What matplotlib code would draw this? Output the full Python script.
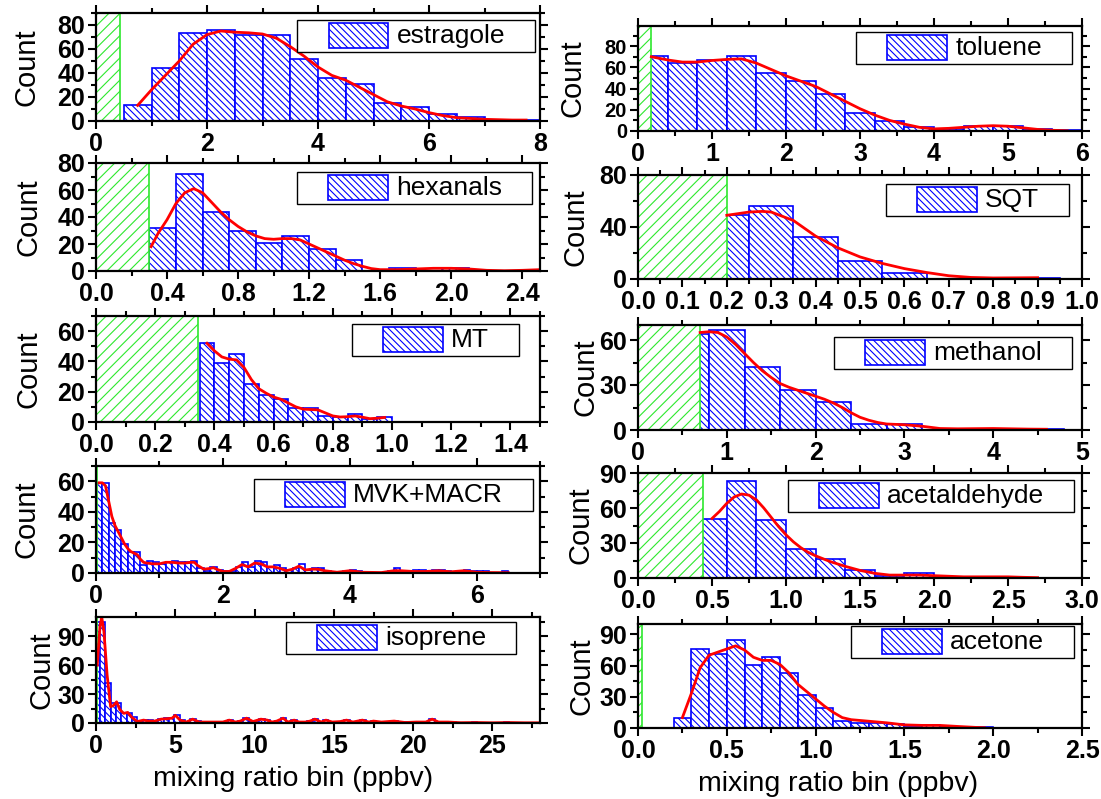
import numpy as np
import matplotlib.pyplot as plt
from matplotlib.patches import Rectangle
from matplotlib.offsetbox import AnchoredOffsetbox, DrawingArea, HPacker, TextArea
from matplotlib.ticker import MultipleLocator, FormatStrFormatter
from matplotlib.transforms import offset_copy

plt.rcParams['font.family'] = ['Liberation Sans', 'DejaVu Sans']
plt.rcParams['font.weight'] = 'bold'
plt.rcParams['hatch.linewidth'] = 0.8

# ---- histogram counts (first bin edge, bin width, counts), LOD and fitted curve ----
estragole_bin0, estragole_binw = 0.5, 0.5
estragole_counts = [13, 44, 73, 76, 72, 72, 52, 36, 31, 15, 12, 6, 3, 1, 1]
estragole_lod = 0.43
estragole_fit_x = [0.75, 1.0, 1.25, 1.5, 1.75, 2.0, 2.25, 2.5, 2.75, 3.0, 3.25, 3.5, 3.75, 4.0,
                   4.25, 4.5, 4.75, 5.0, 5.25, 5.5, 5.75, 6.0, 6.25, 6.5, 7.0, 7.5, 7.75]
estragole_fit_y = [13, 26, 38, 50, 64, 72, 75, 74, 73.5, 72.5, 69, 62, 54, 45,
                   38, 34, 28, 22, 16, 12.5, 10, 7, 4.5, 2.8, 1.4, 0.8, 0.8]

toluene_bin0, toluene_binw = 0.0, 0.4
toluene_counts = [71, 64, 67, 71, 55, 47, 35, 17, 9, 4, 2, 5, 5, 2, 1]
toluene_lod = 0.18
toluene_fit_x = [0.18, 0.4, 0.6, 0.8, 1.0, 1.2, 1.4, 1.6, 1.8, 2.0, 2.2, 2.4, 2.6, 2.8, 3.0,
                 3.2, 3.4, 3.6, 3.8, 4.0, 4.2, 4.4, 4.6, 4.8, 5.0, 5.2, 5.4, 5.6, 5.8]
toluene_fit_y = [70, 67, 65, 65, 66.5, 67.5, 68, 64, 58, 52, 47, 42, 35, 28, 21,
                 15, 10, 6.5, 3.5, 2, 2.5, 3.5, 4.5, 5, 4.5, 3, 1.5, 0.7, 0.2]

hexanals_bin0, hexanals_binw = 0.3, 0.15
hexanals_counts = [32, 72, 44, 30, 21, 26, 16, 8, 0, 2, 0, 2, 0, 0, 1]
hexanals_lod = 0.3
hexanals_fit_x = [0.31, 0.35, 0.4, 0.45, 0.5, 0.55, 0.6, 0.65, 0.7, 0.75, 0.8, 0.85, 0.9, 0.95,
                  1.0, 1.05, 1.1, 1.15, 1.2, 1.25, 1.3, 1.35, 1.4, 1.45, 1.5, 1.55, 1.6, 1.7,
                  1.8, 1.9, 2.0, 2.1, 2.2, 2.3, 2.4, 2.5]
hexanals_fit_y = [18, 28, 38, 50, 58, 61, 58, 51, 44, 38, 33, 29, 26, 24,
                  23.5, 24, 24, 23, 20, 17, 14, 11, 8, 5.5, 3.5, 1.8, 1, 1,
                  1.5, 2, 2, 1.5, 0.5, 0.2, 0.5, 1]

sqt_bin0, sqt_binw = 0.15, 0.1
sqt_counts = [49, 56, 32, 14, 5, 0, 0, 1]
sqt_lod = 0.2
sqt_fit_x = [0.2, 0.25, 0.28, 0.3, 0.35, 0.4, 0.45, 0.5, 0.55, 0.6, 0.65, 0.7, 0.75, 0.8, 0.9]
sqt_fit_y = [49, 51.5, 52, 51.5, 45, 33, 24, 17, 12, 8, 5, 2.5, 1.2, 0.8, 1]

mt_bin0, mt_binw = 0.35, 0.05
mt_counts = [52, 39, 45, 25, 18, 15, 9, 9, 4, 3, 5, 2, 3]
mt_lod = 0.345
mt_fit_x = [0.375, 0.4, 0.425, 0.45, 0.475, 0.5, 0.525, 0.55, 0.575, 0.6, 0.625, 0.65, 0.675,
            0.7, 0.75, 0.775, 0.8, 0.825, 0.85, 0.875, 0.9, 0.925, 0.95, 0.975]
mt_fit_y = [52, 47, 43, 41.5, 41, 36, 28, 22, 19, 16.5, 15, 12.5, 10,
            8.5, 8, 6, 4, 3.3, 3.5, 4, 3.2, 2.2, 2.5, 3]

methanol_bin0, methanol_binw = 0.4, 0.4
methanol_counts = [64, 67, 42, 27, 19, 4, 4, 0, 1, 0, 1]
methanol_lod = 0.7
methanol_fit_x = [0.7, 0.8, 0.9, 1.0, 1.1, 1.2, 1.3, 1.4, 1.5, 1.6, 1.7, 1.8, 1.9, 2.0, 2.1, 2.2,
                  2.3, 2.4, 2.5, 2.6, 2.7, 2.8, 3.0, 3.2, 3.4, 3.6, 4.0, 4.4, 4.6]
methanol_fit_y = [65, 65.5, 65, 62, 57, 51, 45, 39.5, 35, 31, 28.5, 26.5, 24.5, 22.5, 20.5, 18,
                  15, 11.5, 8.5, 6.5, 5, 4, 3.5, 2.5, 1, 0.8, 1, 0.6, 0.5]

mvk_bin0, mvk_binw = 0.0, 0.1
mvk_counts = [59, 59, 33, 28, 19, 14, 14, 5, 8, 7, 6, 7, 8, 7, 7, 8, 3, 1, 4, 2,
              1, 1, 4, 7, 4, 8, 7, 4, 5, 3, 2, 3, 6, 2, 3, 3, 1, 0, 0, 1,
              2, 1, 0, 0, 0, 0, 1, 3, 1, 1, 2, 2, 1, 2, 2, 1, 0, 1, 2, 1,
              1, 1, 0, 0, 1]
mvk_lod = 0.015
mvk_fit_x = [0.05, 0.1, 0.15, 0.2, 0.25, 0.3, 0.35, 0.4, 0.45, 0.5, 0.55, 0.6, 0.65, 0.7, 0.75,
             0.8, 0.9, 1.0, 1.1, 1.2, 1.3, 1.4, 1.5, 1.55, 1.6, 1.7, 1.8, 1.85, 1.9, 2.0,
             2.1, 2.2, 2.3, 2.4, 2.5, 2.6, 2.7, 2.8, 2.9, 3.0, 3.1, 3.2, 3.3, 3.4, 3.5,
             3.6, 3.8, 4.0, 4.2, 4.5, 4.7, 4.8, 5.0, 5.2, 5.4, 5.6, 5.8, 6.0, 6.2, 6.5]
mvk_fit_y = [59, 59, 57, 47, 37, 31, 27, 23, 19, 16, 14, 13, 12, 9, 7,
             6.5, 6, 6, 7, 7, 6.5, 6.5, 7, 7, 5, 2.5, 3, 3.5, 2.5, 1,
             1, 3, 5.5, 4, 6.5, 6, 4, 4, 3, 1.5, 2.5, 4.5, 2, 2.5, 2.5,
             1.5, 0.5, 1.5, 0.5, 0.3, 1.5, 1.5, 1, 1, 1.5, 0.8, 1.5, 0.5, 0.3, 0.2]

isoprene_bin0, isoprene_binw = -0.08, 0.335
isoprene_counts = [105, 105, 41, 21, 21, 10, 10, 6, 2, 3, 3, 2, 4, 5, 5, 8, 3, 1, 4, 2,
                   1, 1, 1, 1, 1, 3, 1, 2, 5, 2, 1, 4, 3, 1, 2, 5, 1, 3, 1, 1,
                   2, 4, 1, 3, 1, 1, 1, 3, 1, 1, 3, 1, 2, 1, 1, 1, 2, 1, 1, 0,
                   1, 1, 1, 4, 1, 1, 1, 1, 0, 0, 0, 1, 0, 0, 0, 0, 0, 1]
isoprene_lod = 0.08
isoprene_fit_x = [0.08, 0.25, 0.36, 0.5, 0.7, 0.92, 1.1, 1.3, 1.5, 1.75, 2.0, 2.25, 2.6, 3.0,
                  3.3, 3.7, 4.1, 4.5, 4.8, 5.0, 5.3, 5.7, 6.1, 6.5, 7.0, 7.5, 8.0, 8.4,
                  8.8, 9.1, 9.5, 9.9, 10.4, 10.8, 11.1, 11.4, 11.8, 12.1, 12.5, 12.8, 13.2,
                  13.5, 13.8, 14.2, 14.5, 14.9, 15.4, 15.8, 16.2, 16.8, 17.2, 17.5, 18.0,
                  18.8, 19.5, 20.2, 20.8, 21.2, 21.6, 22.2, 23.0, 24.0, 25.0, 26.0, 27.0, 28.0]
isoprene_fit_y = [60, 100, 110, 95, 50, 17, 18, 22, 14, 10, 11, 6, 1.5, 3,
                  2, 2, 4, 4.5, 5, 8, 3, 1, 4, 1, 1, 1, 1, 3,
                  1, 2, 5, 1.5, 4, 3, 1, 2, 5, 1, 3, 1, 1,
                  2, 4, 1, 3, 1, 1.5, 3, 1, 3, 1, 2, 1,
                  2, 0.5, 1, 1, 4, 1, 1, 0.3, 0.5, 0.2, 0.5, 0.2, 0.2]

acetaldehyde_bin0, acetaldehyde_binw = 0.4, 0.2
acetaldehyde_counts = [51, 83, 50, 25, 16, 7, 2, 4, 1, 1, 1]
acetaldehyde_lod = 0.44
acetaldehyde_fit_x = [0.5, 0.55, 0.6, 0.65, 0.7, 0.75, 0.8, 0.85, 0.9, 0.95, 1.0, 1.05, 1.1,
                      1.15, 1.2, 1.25, 1.3, 1.35, 1.4, 1.5, 1.6, 1.7, 1.8, 1.9, 2.0, 2.1,
                      2.2, 2.3, 2.4, 2.5, 2.6, 2.7]
acetaldehyde_fit_y = [51, 57, 64, 69.5, 72, 71, 67, 60, 52, 44, 37, 31, 26,
                      22, 19, 16.5, 14, 12, 10, 6.5, 4, 2.5, 2.5, 2.5, 2, 1.5,
                      1, 1, 1, 1, 0.6, 0.3]

acetone_bin0, acetone_binw = 0.2, 0.1
acetone_counts = [10, 76, 71, 85, 61, 68, 53, 32, 19, 7, 5, 5, 4, 1, 3, 1, 1, 1]
acetone_lod = 0.025
acetone_fit_x = [0.25, 0.3, 0.35, 0.4, 0.45, 0.5, 0.55, 0.6, 0.65, 0.7, 0.75, 0.8, 0.85, 0.9,
                 0.95, 1.0, 1.05, 1.1, 1.15, 1.2, 1.3, 1.4, 1.5, 1.6, 1.7, 1.8, 1.9, 1.95]
acetone_fit_y = [10, 33, 58, 70, 73, 76, 79, 75, 68, 65, 65, 61, 53, 42,
                 35, 28, 21, 15, 10, 8, 6.5, 5, 3, 2.5, 2.5, 1.5, 0.6, 0.3]

# compound, counts, first edge, width, LOD, fit x, fit y, xmax, x major, x fmt, ymax, y major
panels = [
    ('estragole', estragole_counts, estragole_bin0, estragole_binw, estragole_lod,
     estragole_fit_x, estragole_fit_y, 8, 2, '%d', 90, 20),
    ('hexanals', hexanals_counts, hexanals_bin0, hexanals_binw, hexanals_lod,
     hexanals_fit_x, hexanals_fit_y, 2.5, 0.4, '%.1f', 80, 20),
    ('MT', mt_counts, mt_bin0, mt_binw, mt_lod, mt_fit_x, mt_fit_y, 1.5, 0.2, '%.1f', 70, 20),
    ('MVK+MACR', mvk_counts, mvk_bin0, mvk_binw, mvk_lod, mvk_fit_x, mvk_fit_y, 7, 2, '%d', 70, 20),
    ('isoprene', isoprene_counts, isoprene_bin0, isoprene_binw, isoprene_lod,
     isoprene_fit_x, isoprene_fit_y, 28, 5, '%d', 110, 30),
    ('toluene', toluene_counts, toluene_bin0, toluene_binw, toluene_lod,
     toluene_fit_x, toluene_fit_y, 6, 1, '%d', 99, 20),
    ('SQT', sqt_counts, sqt_bin0, sqt_binw, sqt_lod, sqt_fit_x, sqt_fit_y, 1.0, 0.1, '%.1f', 80, 40),
    ('methanol', methanol_counts, methanol_bin0, methanol_binw, methanol_lod,
     methanol_fit_x, methanol_fit_y, 5, 1, '%d', 70, 30),
    ('acetaldehyde', acetaldehyde_counts, acetaldehyde_bin0, acetaldehyde_binw, acetaldehyde_lod,
     acetaldehyde_fit_x, acetaldehyde_fit_y, 3.0, 0.5, '%.1f', 90, 30),
    ('acetone', acetone_counts, acetone_bin0, acetone_binw, acetone_lod,
     acetone_fit_x, acetone_fit_y, 2.5, 0.5, '%.1f', 100, 30),
]

# axes boxes in pixels: left, top, right, bottom
W, H = 1101, 799
boxes = [(96, 13, 540, 121), (96, 163, 540, 271), (96, 316, 540, 422),
         (96, 466, 540, 573), (96, 617, 540, 723),
         (638, 26, 1082, 131), (638, 175, 1082, 279), (638, 325, 1082, 430),
         (638, 473, 1082, 578), (638, 624, 1082, 728)]
# key box offset from the top right corner (px) and "Count" position
key_offsets = [(5, 7), (8, 9), (21, 8), (7, 13), (24, 5),
               (10, 6), (13, 9), (10, 12), (8, 7), (8, 2)]
count_x = [-0.124, -0.12, -0.12, -0.124, -0.092, -0.117, -0.11, -0.086, -0.097, -0.095]
# y tick label size (the toluene axis is packed tighter)
ytick_size = [18, 18, 18, 18, 18, 14.5, 18, 18, 18, 18]

BLUE = '#0000ff'
GREEN = '#2ee82e'
BLUE_HATCH = '\\' * 5
GREEN_HATCH = '///'


def add_key(ax, label, dx, dy):
    key = DrawingArea(63, 18, 0, 0)
    key.add_artist(Rectangle((20, 0), 43, 18, facecolor='white', edgecolor=BLUE,
                             hatch=BLUE_HATCH, linewidth=1.2))
    text = TextArea(label, textprops=dict(fontsize=19, fontweight='normal'))
    tail = DrawingArea(13, 1, 0, 0)
    row = HPacker(children=[key, text, tail], align='center', pad=0, sep=6)
    anchor = offset_copy(ax.transAxes, fig=ax.figure, x=-dx, y=-dy, units='dots')
    box = AnchoredOffsetbox(loc='upper right', child=row, pad=0.25, borderpad=0,
                            frameon=True, bbox_to_anchor=(1, 1), bbox_transform=anchor)
    box.patch.set_boxstyle('square', pad=0)
    box.patch.set_edgecolor('black')
    box.patch.set_linewidth(1.0)
    box.set_zorder(6)
    ax.add_artist(box)


fig = plt.figure(figsize=(W / 100, H / 100), dpi=100)

for i, (name, counts, bin0, binw, lod, fx, fy, xmax, xstep, xfmt, ymax, ystep) in enumerate(panels):
    l, t, r, b = boxes[i]
    ax = fig.add_axes([l / W, 1 - b / H, (r - l) / W, (b - t) / H])

    lefts = bin0 + binw * np.arange(len(counts))
    ax.bar(lefts, counts, width=binw, align='edge', facecolor='white', edgecolor=BLUE,
           hatch=BLUE_HATCH, linewidth=1.2, zorder=2)
    # below detection limit
    ax.bar(0, ymax, width=lod, align='edge', facecolor='white', edgecolor=GREEN,
           hatch=GREEN_HATCH, linewidth=1.2, zorder=3)
    ax.plot(fx, fy, color='red', linewidth=2, zorder=4)

    ax.set_xlim(0, xmax)
    ax.set_ylim(0, ymax)
    ax.xaxis.set_major_locator(MultipleLocator(xstep))
    ax.xaxis.set_minor_locator(MultipleLocator(xstep / 2))
    ax.xaxis.set_major_formatter(FormatStrFormatter(xfmt))
    ax.yaxis.set_major_locator(MultipleLocator(ystep))
    ax.yaxis.set_minor_locator(MultipleLocator(ystep / 2))

    ax.tick_params(which='both', direction='out', top=True, right=True, width=1.5, pad=2)
    ax.tick_params(axis='x', labelsize=18)
    ax.tick_params(axis='y', labelsize=ytick_size[i])
    ax.tick_params(which='major', length=6)
    ax.tick_params(which='minor', length=3.5)
    for sp in ax.spines.values():
        sp.set_linewidth(1.6)
        sp.set_zorder(5)

    ax.set_ylabel('Count', fontsize=21, fontweight='normal')
    ax.yaxis.set_label_coords(count_x[i], 0.5)
    add_key(ax, name, *key_offsets[i])

    if i in (4, 9):
        ax.set_xlabel('mixing ratio bin (ppbv)', fontsize=20.5, fontweight='normal')
        ax.xaxis.set_label_coords(0.443 if i == 4 else 0.45, -0.41)

fig.savefig('out.png', dpi=100)
